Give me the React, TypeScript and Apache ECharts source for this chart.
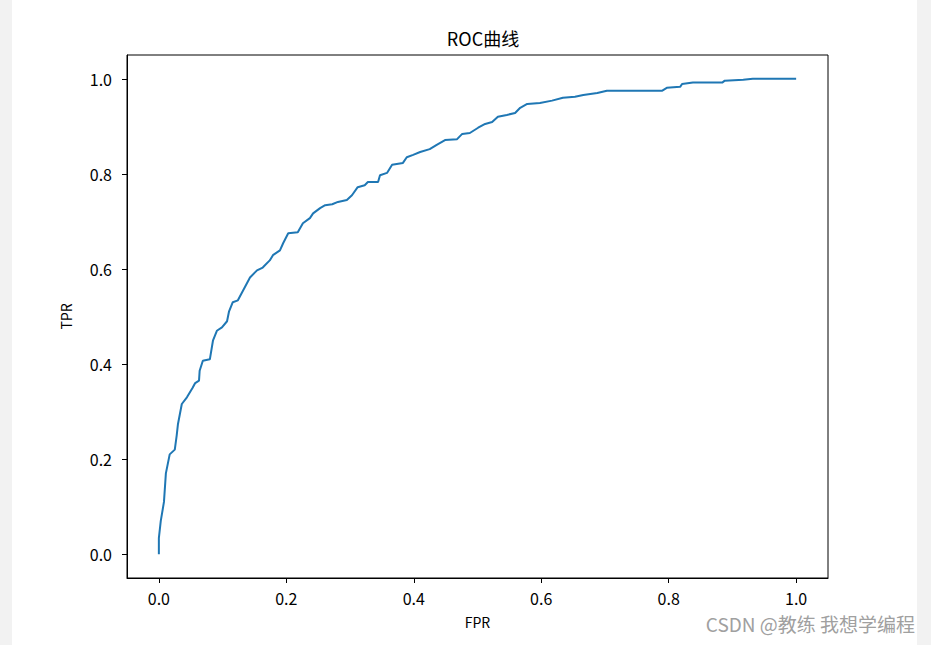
import React, { useEffect, useRef } from "react";
import * as echarts from "echarts";

const fpr = [0, 0, 0.003, 0.008, 0.011, 0.017, 0.025, 0.028, 0.03, 0.036, 0.044, 0.053, 0.057, 0.063, 0.064, 0.069, 0.08, 0.085, 0.091, 0.099, 0.107, 0.11, 0.116, 0.124, 0.143, 0.154, 0.163, 0.174, 0.179, 0.19, 0.195, 0.203, 0.218, 0.226, 0.237, 0.242, 0.253, 0.261, 0.272, 0.281, 0.295, 0.303, 0.312, 0.323, 0.328, 0.344, 0.347, 0.358, 0.366, 0.383, 0.389, 0.399, 0.41, 0.425, 0.436, 0.449, 0.468, 0.476, 0.488, 0.501, 0.512, 0.523, 0.532, 0.546, 0.559, 0.567, 0.578, 0.598, 0.617, 0.634, 0.653, 0.666, 0.688, 0.703, 0.79, 0.797, 0.818, 0.821, 0.838, 0.884, 0.888, 0.917, 0.932, 1.0];
const tpr = [0, 0.034, 0.07, 0.11, 0.17, 0.21, 0.22, 0.25, 0.274, 0.316, 0.33, 0.35, 0.36, 0.365, 0.386, 0.407, 0.41, 0.45, 0.47, 0.477, 0.49, 0.51, 0.53, 0.534, 0.582, 0.597, 0.603, 0.618, 0.629, 0.639, 0.654, 0.675, 0.677, 0.696, 0.707, 0.717, 0.728, 0.734, 0.736, 0.741, 0.745, 0.755, 0.772, 0.776, 0.783, 0.783, 0.797, 0.802, 0.819, 0.823, 0.835, 0.84, 0.846, 0.852, 0.861, 0.871, 0.873, 0.884, 0.886, 0.897, 0.905, 0.909, 0.92, 0.924, 0.928, 0.939, 0.947, 0.949, 0.954, 0.96, 0.962, 0.966, 0.97, 0.975, 0.975, 0.981, 0.983, 0.989, 0.992, 0.992, 0.996, 0.998, 1.0, 1.0];
const tickValues = [0, 0.2, 0.4, 0.6, 0.8, 1.0];

const FONT = "'Noto Sans CJK SC', 'DejaVu Sans', sans-serif";

export default function App() {
  const ref = useRef<HTMLDivElement>(null);
  useEffect(() => {
    if (!ref.current) return;
    const chart = echarts.init(ref.current, null, { renderer: "svg" });
    const data = fpr.map((x, i) => [x, tpr[i]]);
    const axisCommon = {
      type: "value" as const,
      min: -0.05,
      max: 1.05,
      splitLine: { show: false },
      axisLine: { show: true, onZero: false, lineStyle: { color: "#000", width: 1 } },
      axisTick: { show: true, customValues: tickValues, length: 5, lineStyle: { color: "#000" } },
      nameTextStyle: { color: "#000", fontSize: 14, fontFamily: FONT },
    };
    chart.setOption({
      animation: false,
      backgroundColor: "#fff",
      title: {
        text: "ROC曲线",
        left: 478,
        textAlign: "center",
        top: 24,
        textStyle: { color: "#000", fontSize: 18, fontWeight: "normal", fontFamily: FONT },
      },
      grid: {
        left: 127,
        top: 55,
        right: 103,
        bottom: 67,
        show: true,
        borderColor: "#000",
        borderWidth: 1,
        backgroundColor: "#fff",
      },
      xAxis: {
        ...axisCommon,
        name: "FPR",
        nameLocation: "middle",
        nameGap: 37,
        axisLabel: {
          customValues: tickValues,
          formatter: (v: number) => v.toFixed(1),
          color: "#000",
          fontSize: 16,
          fontFamily: FONT,
          margin: 12,
        },
      },
      yAxis: {
        ...axisCommon,
        name: "TPR",
        nameLocation: "middle",
        nameGap: 54,
        axisLabel: {
          customValues: tickValues,
          formatter: (v: number) => v.toFixed(1),
          color: "#000",
          fontSize: 16,
          fontFamily: FONT,
          margin: 15,
        },
      },
      graphic: [
        { type: "rect", left: 0, top: 0, shape: { width: 12, height: 645 }, style: { fill: "#f2f2f2" }, silent: true },
        { type: "rect", left: 917, top: 0, shape: { width: 14, height: 645 }, style: { fill: "#f2f2f2" }, silent: true },
        {
          type: "text",
          right: 16,
          top: 614,
          style: { text: "CSDN @教练 我想学编程", fill: "#a0a0a0", fontSize: 19, fontFamily: FONT },
          silent: true,
        },
      ],
      series: [
        {
          type: "line",
          data,
          showSymbol: false,
          symbol: "none",
          lineStyle: { color: "#1f77b4", width: 2 },
          itemStyle: { color: "#1f77b4" },
        },
      ],
    });
    return () => chart.dispose();
  }, []);
  return (
    <div
      ref={ref}
      style={{ position: "fixed", left: 0, top: 0, width: 931, height: 645, background: "#fff" }}
    />
  );
}
